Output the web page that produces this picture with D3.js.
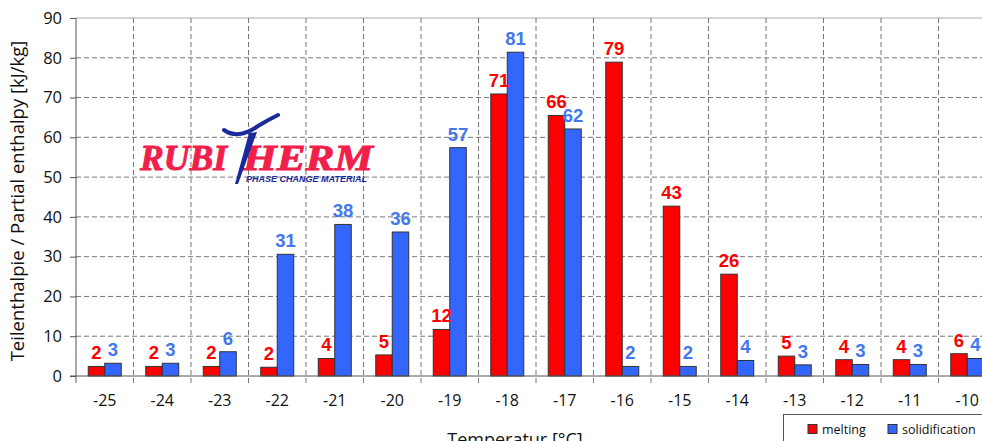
<!DOCTYPE html>
<html>
<head>
<meta charset="utf-8">
<script src="https://cdn.jsdelivr.net/npm/d3@7"></script>
<style>
  body { margin: 0; background: #fff; }
  svg { display: block; font-family: "Open Sans", "DejaVu Sans", sans-serif; }
</style>
</head>
<body>
<svg id="chart" width="982" height="441"></svg>
<script>
// Daten
const temperatures = [-25, -24, -23, -22, -21, -20, -19, -18, -17, -16, -15, -14, -13, -12, -11, -10];
const melting = [2.4, 2.4, 2.4, 2.2, 4.4, 5.3, 11.7, 70.9, 65.5, 78.9, 42.7, 25.6, 5.0, 4.1, 4.1, 5.6];
const solidification = [3.2, 3.2, 6.1, 30.6, 38.1, 36.2, 57.4, 81.4, 62.1, 2.4, 2.4, 3.9, 2.8, 2.9, 2.9, 4.4];
const yTicks = [0, 10, 20, 30, 40, 50, 60, 70, 80, 90];
const seriesNames = ["melting", "solidification"];

const svg = d3.select("#chart");
const plotLeft = 76, plotTop = 18, plotBottom = 376;
const step = 57.5;
const plotRight = plotLeft + step * temperatures.length;

const x = d3.scaleBand().domain(temperatures).range([plotLeft, plotRight]);
const y = d3.scaleLinear().domain([0, 90]).range([plotBottom, plotTop]);

const barColors = { melting: "#ff0000", solidification: "#3366ff" };
const labelColors = { melting: "#ff0000", solidification: "#4477ee" };

// Gitterlinien horizontal
svg.append("g")
  .selectAll("line")
  .data(yTicks.filter(d => d > 0 && d < 90))
  .enter()
  .append("line")
  .attr("x1", plotLeft).attr("x2", plotRight)
  .attr("y1", d => y(d)).attr("y2", d => y(d))
  .attr("stroke", "#777")
  .attr("stroke-dasharray", "5,3");

// obere Begrenzung
svg.append("line")
  .attr("x1", plotLeft).attr("x2", plotRight)
  .attr("y1", y(90)).attr("y2", y(90))
  .attr("stroke", "#aaa");

// vertikale Gitterlinien zwischen den Kategorien
svg.append("g")
  .selectAll("line")
  .data(temperatures.slice(1))
  .enter()
  .append("line")
  .attr("x1", d => x(d)).attr("x2", d => x(d))
  .attr("y1", plotTop).attr("y2", plotBottom + 7)
  .attr("stroke", "#777")
  .attr("stroke-dasharray", "5,3");

// Logo (hinter den Balken)
const logo = svg.append("g");
[["RUBI", 140, 87], ["HERM", 243, 130]].forEach(([t, lx, len]) => {
  logo.append("text")
    .attr("x", lx).attr("y", 170)
    .attr("font-family", "Liberation Serif, serif")
    .attr("font-style", "italic")
    .attr("font-weight", "bold")
    .attr("font-size", 35)
    .attr("fill", "#f0204a")
    .attr("stroke", "#f0204a")
    .attr("stroke-width", 0.9)
    .attr("textLength", len)
    .attr("lengthAdjust", "spacingAndGlyphs")
    .text(t);
});
logo.append("path")
  .attr("d", "M224,130 Q238,140 258,126 Q268,120 278,115")
  .attr("fill", "none")
  .attr("stroke", "#1a2a9a")
  .attr("stroke-width", 4)
  .attr("stroke-linecap", "round");
logo.append("path")
  .attr("d", "M249,133 L257,132 L238,184 L235,184 Z")
  .attr("fill", "#1a2a9a");
logo.append("text")
  .attr("x", 246).attr("y", 182)
  .attr("font-family", "Liberation Sans, sans-serif")
  .attr("font-style", "italic")
  .attr("font-weight", "bold")
  .attr("font-size", 8.5)
  .attr("fill", "#1a2a9a")
  .attr("textLength", 121)
  .attr("lengthAdjust", "spacingAndGlyphs")
  .text("PHASE CHANGE MATERIAL");

// Balken
const barW = 16.5;
const inner = d3.scaleBand().domain(seriesNames).range([0, step])
  .paddingOuter((step / barW - 2) / 2);
const rows = (d, i) => seriesNames.map(s => ({ key: s, value: s === "melting" ? melting[i] : solidification[i] }));
const groups = svg.append("g")
  .selectAll("g")
  .data(temperatures)
  .enter()
  .append("g")
  .attr("transform", d => `translate(${x(d)},0)`);

groups.selectAll("rect")
  .data(rows)
  .enter()
  .append("rect")
  .attr("x", d => inner(d.key))
  .attr("y", d => y(d.value))
  .attr("width", inner.bandwidth())
  .attr("height", d => plotBottom - y(d.value))
  .attr("fill", d => barColors[d.key])
  .attr("stroke", "#333")
  .attr("stroke-width", 1);

groups.selectAll("text")
  .data(rows)
  .enter()
  .append("text")
  .attr("x", d => inner(d.key) + inner.bandwidth() / 2)
  .attr("y", d => y(d.value) - 7)
  .attr("text-anchor", "middle")
  .attr("font-family", "Liberation Sans, Arial, sans-serif")
  .attr("font-weight", "bold")
  .attr("font-size", 18.5)
  .attr("fill", d => labelColors[d.key])
  .text(d => d3.format(".0f")(d.value));

// y-Achse
const yAxis = svg.append("g")
  .attr("transform", `translate(${plotLeft},0)`)
  .call(d3.axisLeft(y).tickValues(yTicks).tickSize(6).tickPadding(8));
yAxis.select(".domain").attr("stroke", "#555").attr("d", `M0,${plotTop}V${plotBottom + 7}`);
yAxis.selectAll(".tick line").attr("stroke", "#555");
yAxis.selectAll("text")
  .attr("font-size", 16.5)
  .attr("font-family", "Open Sans, sans-serif")
  .attr("fill", "#111");

// x-Achse
const xAxis = svg.append("g")
  .attr("transform", `translate(0,${plotBottom})`)
  .call(d3.axisBottom(x).tickSize(0).tickPadding(19));
xAxis.select(".domain").attr("stroke", "#555").attr("d", `M${plotLeft - 6},0H${plotRight}`);
xAxis.selectAll("text")
  .attr("font-size", 16)
  .attr("font-family", "Open Sans, sans-serif")
  .attr("fill", "#111");

// Achsentitel
svg.append("text")
  .attr("transform", "translate(24,201) rotate(-90)")
  .attr("text-anchor", "middle")
  .attr("font-size", 18.5)
  .attr("fill", "#111")
  .text("Teilenthalpie / Partial enthalpy [kJ/kg]");

svg.append("text")
  .attr("x", 515).attr("y", 446)
  .attr("text-anchor", "middle")
  .attr("font-size", 18)
  .attr("fill", "#111")
  .text("Temperatur [°C]");

// Legende
const legend = svg.append("g").attr("transform", "translate(783,414)");
legend.append("rect")
  .attr("x", 0.5).attr("y", 0.5)
  .attr("width", 220).attr("height", 40)
  .attr("fill", "#fff")
  .attr("stroke", "#555");
seriesNames.forEach((s, i) => {
  const lx = 25 + i * 80;
  legend.append("rect")
    .attr("x", lx).attr("y", 10.5)
    .attr("width", 9).attr("height", 9)
    .attr("fill", barColors[s])
    .attr("stroke", "#333");
  legend.append("text")
    .attr("x", lx + 14).attr("y", 20)
    .attr("font-size", 12.5)
    .attr("fill", "#111")
    .text(s);
});
</script>
</body>
</html>
